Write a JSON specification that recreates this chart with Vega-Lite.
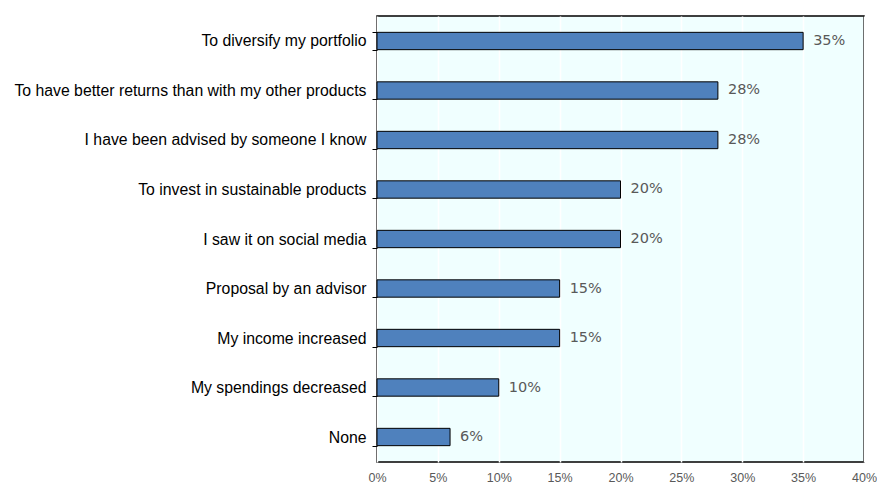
{
  "$schema": "https://vega.github.io/schema/vega-lite/v6.json",
  "autosize": {"type": "none"},
  "width": 487,
  "height": 446,
  "padding": {"left": 377, "top": 16, "right": 13, "bottom": 21},
  "background": "white",
  "config": {
    "view": {"fill": "#f0ffff", "stroke": "#000000", "strokeWidth": 1.5},
    "axis": {"domain": false}
  },
  "data": {
    "values": [
      {"reason": "To diversify my portfolio", "share": 0.35},
      {"reason": "To have better returns than with my other products", "share": 0.28},
      {"reason": "I have been advised by someone I know", "share": 0.28},
      {"reason": "To invest in sustainable products", "share": 0.20},
      {"reason": "I saw it on social media", "share": 0.20},
      {"reason": "Proposal by an advisor", "share": 0.15},
      {"reason": "My income increased", "share": 0.15},
      {"reason": "My spendings decreased", "share": 0.10},
      {"reason": "None", "share": 0.06}
    ]
  },
  "encoding": {
    "y": {
      "field": "reason", "type": "nominal", "sort": null,
      "scale": {"paddingInner": 0.65, "paddingOuter": 0.33},
      "axis": {"title": null, "labelFont": "Liberation Sans", "labelFontSize": 15.8, "labelColor": "#000000",
               "labelPadding": 6, "labelLimit": 420, "tickBand": "extent", "tickSize": 5, "tickColor": "#000000", "grid": false}
    },
    "x": {
      "field": "share", "type": "quantitative",
      "scale": {"domain": [0, 0.4], "nice": false},
      "axis": {"title": null, "format": ".0%", "values": [0,0.05,0.1,0.15,0.2,0.25,0.3,0.35,0.4],
               "labelFont": "Liberation Sans", "labelFontSize": 12.5, "labelColor": "#595959", "labelPadding": 9,
               "labelFlush": false, "labelOverlap": false,
               "grid": true, "gridColor": "#ffffff", "gridWidth": 1.5, "ticks": false}
    }
  },
  "layer": [
    {"mark": {"type": "bar", "color": "#4f81bd", "stroke": "#000000", "strokeWidth": 1}},
    {"mark": {"type": "text", "align": "left", "dx": 10, "font": "DejaVu Sans", "fontSize": 14.5, "color": "#595959"},
     "encoding": {"text": {"field": "share", "type": "quantitative", "format": ".0%"}}}
  ]
}
